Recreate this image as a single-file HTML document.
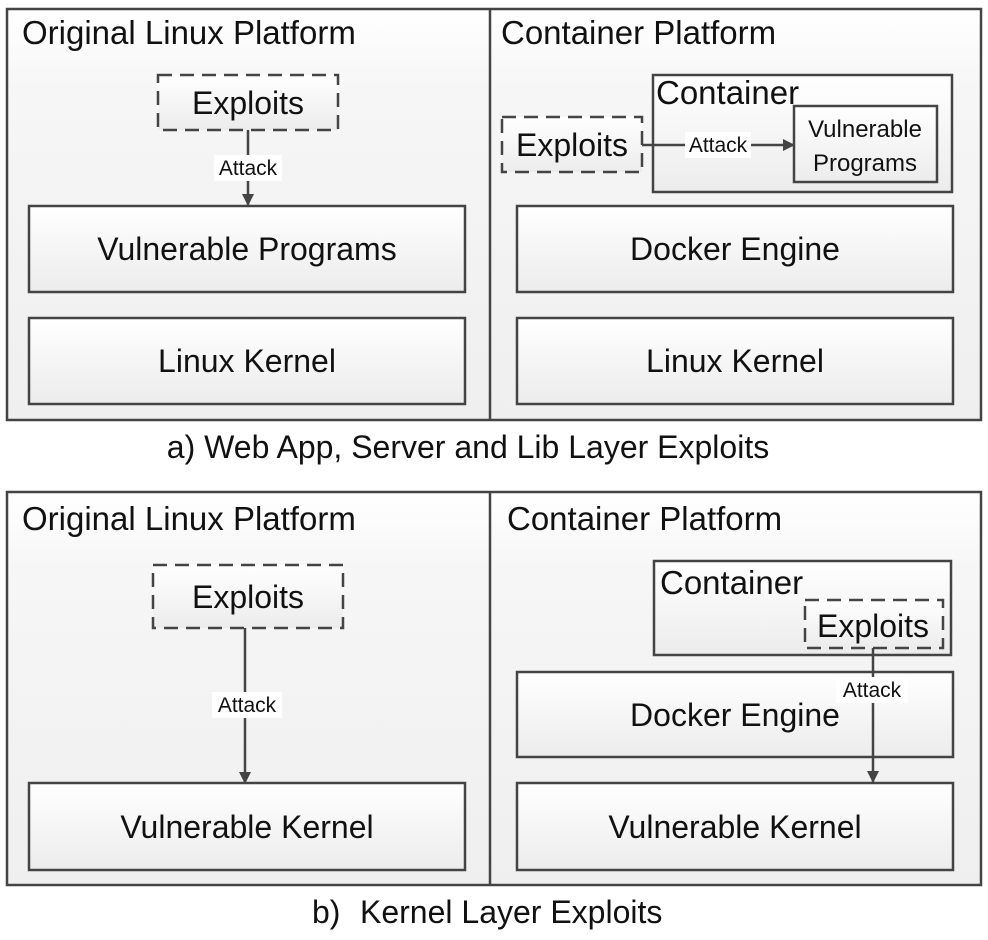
<!DOCTYPE html>
<html><head><style>
html,body{margin:0;padding:0;background:#fff;}
svg{display:block;}
text{font-family:"Liberation Sans",sans-serif;fill:#111;}
</style></head><body>
<svg width="988" height="940" viewBox="0 0 988 940" xmlns="http://www.w3.org/2000/svg">
<defs>
<linearGradient id="g" x1="0" y1="0" x2="0" y2="1"><stop offset="0" stop-color="#ffffff"/><stop offset="1" stop-color="#ececec"/></linearGradient>
<linearGradient id="gp" x1="0" y1="0" x2="0" y2="1"><stop offset="0" stop-color="#ffffff"/><stop offset="0.2" stop-color="#f6f6f6"/><stop offset="1" stop-color="#efefef"/></linearGradient>
<marker id="ar" markerWidth="12" markerHeight="12" refX="11" refY="6" orient="auto" markerUnits="userSpaceOnUse"><path d="M0,0 L12,6 L0,12 z" fill="#444"/></marker>
</defs>
<g stroke="#444" stroke-width="2.5">
<rect x="7" y="9" width="974" height="411" fill="url(#gp)"/>
<line x1="490" y1="9" x2="490" y2="420"/>
<rect x="29" y="206" width="436" height="86" fill="url(#g)"/>
<rect x="29" y="318" width="436" height="86" fill="url(#g)"/>
<rect x="158" y="75" width="180" height="55" fill="url(#g)" stroke-dasharray="14,8"/>
<rect x="653" y="75" width="299" height="117" fill="url(#g)"/>
<rect x="794" y="106" width="143" height="76" fill="url(#g)"/>
<rect x="502" y="117" width="140" height="55" fill="url(#g)" stroke-dasharray="14,8"/>
<rect x="517" y="206" width="436" height="86" fill="url(#g)"/>
<rect x="517" y="318" width="436" height="86" fill="url(#g)"/>
<rect x="7" y="492" width="974" height="393" fill="url(#gp)"/>
<line x1="490" y1="492" x2="490" y2="885"/>
<rect x="153" y="565" width="190" height="63" fill="url(#g)" stroke-dasharray="14,8"/>
<rect x="29" y="783" width="436" height="87" fill="url(#g)"/>
<rect x="654" y="561" width="297" height="94" fill="url(#g)"/>
<rect x="805" y="600" width="138" height="48" fill="url(#g)" stroke-dasharray="14,8"/>
<rect x="517" y="672" width="436" height="85" fill="url(#g)"/>
<rect x="517" y="783" width="436" height="87" fill="url(#g)"/>
</g>
<g stroke="#444" stroke-width="2.5" fill="none">
<line x1="248" y1="130" x2="248" y2="205" marker-end="url(#ar)"/>
<line x1="642" y1="145" x2="794" y2="145" marker-end="url(#ar)"/>
<line x1="245" y1="628" x2="245" y2="783" marker-end="url(#ar)"/>
<line x1="873" y1="648" x2="873" y2="782" marker-end="url(#ar)"/>
</g>
<g fill="#fff">
<rect x="214" y="155" width="68" height="26"/>
<rect x="685" y="132" width="66" height="26"/>
<rect x="212" y="692" width="70" height="26"/>
<rect x="836" y="677" width="72" height="26"/>
</g>
<g font-size="21">
<text x="248" y="175" text-anchor="middle">Attack</text>
<text x="718" y="152" text-anchor="middle">Attack</text>
<text x="247" y="712" text-anchor="middle">Attack</text>
<text x="872" y="697" text-anchor="middle">Attack</text>
</g>
<g font-size="33">
<text x="22" y="44">Original Linux Platform</text>
<text x="501" y="44">Container Platform</text>
<text x="22" y="530">Original Linux Platform</text>
<text x="507" y="530">Container Platform</text>
<text x="656" y="104">Container</text>
<text x="660" y="594">Container</text>
</g>
<g font-size="32" text-anchor="middle">
<text x="248" y="114">Exploits</text>
<text x="572" y="156">Exploits</text>
<text x="247" y="260">Vulnerable Programs</text>
<text x="247" y="372">Linux Kernel</text>
<text x="735" y="260">Docker Engine</text>
<text x="735" y="372">Linux Kernel</text>
<text x="248" y="608">Exploits</text>
<text x="873" y="637">Exploits</text>
<text x="735" y="726">Docker Engine</text>
<text x="247" y="838">Vulnerable Kernel</text>
<text x="735" y="838">Vulnerable Kernel</text>
</g>
<g font-size="24" text-anchor="middle">
<text x="865" y="137">Vulnerable</text>
<text x="865" y="171">Programs</text>
</g>
<g font-size="32">
<text x="468" y="458" text-anchor="middle">a) Web App, Server and Lib Layer Exploits</text>
<text x="312" y="923">b)</text>
<text x="360" y="923">Kernel Layer Exploits</text>
</g>
</svg>
</body></html>
